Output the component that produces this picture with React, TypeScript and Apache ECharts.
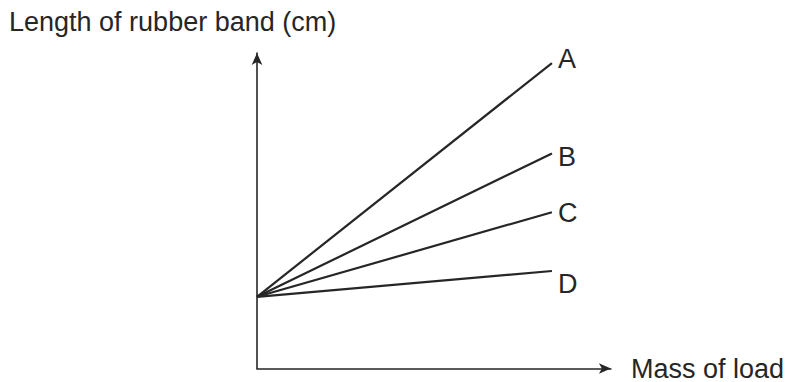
import React, { useEffect, useRef } from "react";
import * as echarts from "echarts";

const massValues = [0, 10];
const seriesNames = ["A", "B", "C", "D"];
const lengthA = [5, 21.3];
const lengthB = [5, 15.0];
const lengthC = [5, 10.9];
const lengthD = [5, 6.8];
const lengths = [lengthA, lengthB, lengthC, lengthD];
const labelOffsets = [[0, -4], [0, 4], [0, 1], [0, 13]];

const FONT = "'Liberation Sans', Arial, Helvetica, sans-serif";
const INK = "#262626";

export default function App() {
  const ref = useRef<HTMLDivElement>(null);
  useEffect(() => {
    if (!ref.current) return;
    const chart = echarts.init(ref.current, null, { renderer: "svg" });
    chart.setOption({
      animation: false,
      backgroundColor: "#ffffff",
      title: {
        text: "Length of rubber band (cm)",
        left: 4,
        top: 3,
        textStyle: { fontFamily: FONT, fontSize: 27, fontWeight: "normal", color: INK },
      },
      grid: { left: 257, top: 53, width: 355, height: 316 },
      xAxis: {
        type: "value",
        min: 0,
        max: 12,
        name: "Mass of load",
        nameLocation: "end",
        nameGap: 20,
        nameTextStyle: { fontFamily: FONT, fontSize: 27, color: INK },
        axisLine: {
          show: true,
          symbol: ["none", "arrow"],
          symbolSize: [8, 12],
          lineStyle: { color: INK, width: 1.6 },
        },
        axisTick: { show: false },
        axisLabel: { show: false },
        splitLine: { show: false },
      },
      yAxis: {
        type: "value",
        min: 0,
        max: 22,
        axisLine: {
          show: true,
          symbol: ["none", "arrow"],
          symbolSize: [8, 12],
          lineStyle: { color: INK, width: 1.6 },
        },
        axisTick: { show: false },
        axisLabel: { show: false },
        splitLine: { show: false },
      },
      series: seriesNames.map((name, i) => ({
        name,
        type: "line",
        showSymbol: false,
        data: massValues.map((m, j) => [m, lengths[i][j]]),
        lineStyle: { color: INK, width: 2.2 },
        endLabel: {
          show: true,
          formatter: "{a}",
          distance: 6,
          offset: labelOffsets[i],
          fontFamily: FONT,
          fontSize: 27,
          color: INK,
        },
      })),
    });
    return () => chart.dispose();
  }, []);
  return (
    <div
      ref={ref}
      style={{ position: "absolute", left: 0, top: 0, width: 787, height: 382 }}
    />
  );
}
